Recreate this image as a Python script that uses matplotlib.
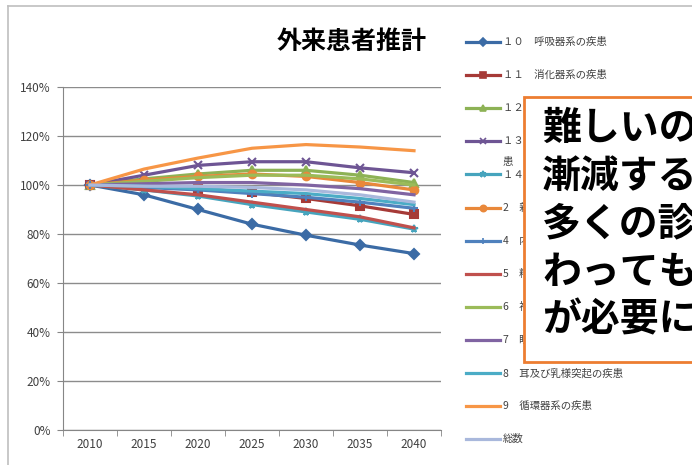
import matplotlib
matplotlib.use("Agg")
import matplotlib.pyplot as plt
from matplotlib.lines import Line2D
from matplotlib.patches import Rectangle

plt.rcParams['font.family'] = ['Noto Sans CJK JP', 'DejaVu Sans']

# data
years = ["2010", "2015", "2020", "2025", "2030", "2035", "2040"]
labels = ["１０　呼吸器系の疾患", "１１　消化器系の疾患", "１２　皮膚及び皮下組織の疾患",
          "１３　筋骨格系及び結合組織の疾\n患", "１４　腎尿路生殖器系の疾患", "2　新生物",
          "4　内分泌，栄養及び代謝疾患", "5　精神及び行動の障害", "6　神経系の疾患",
          "7　眼及び付属器の疾患", "8　耳及び乳様突起の疾患", "9　循環器系の疾患", "総数"]
s10 = [100, 96, 90, 84, 79.5, 75.5, 72]
s11 = [100, 99.5, 98.5, 97, 94.5, 91.5, 88]
s12 = [100, 102.5, 104.5, 106, 106, 104, 101]
s13 = [100, 104, 108, 109.5, 109.5, 107, 105]
s14 = [100, 98, 95.5, 92, 89, 86, 82]
s2 = [100, 102, 103.5, 104.5, 103.5, 101, 98]
s4 = [100, 99, 98, 96.5, 95, 93, 90.5]
s5 = [100, 98, 96, 93, 90, 87, 82.5]
s6 = [100, 101.5, 103, 104, 104, 102.5, 100]
s7 = [100, 100.5, 101, 101, 100, 98.5, 96]
s8 = [100, 99.5, 98.5, 97.5, 96.5, 94.5, 92]
s9 = [100, 106.5, 111, 115, 116.5, 115.5, 114]
total = [100, 99.5, 99.5, 99, 98, 96, 93]
series = [s10, s11, s12, s13, s14, s2, s4, s5, s6, s7, s8, s9, total]

colors = ["#3B6BA5", "#A63A37", "#8DB255", "#6E5594", "#46A4BD", "#E9883A",
          "#4F81BD", "#C0504D", "#9BBB59", "#8064A2", "#4BACC6", "#F79646", "#A9B8DC"]
markers = ["D", "s", "^", "x", "*", "o", "+", None, None, None, None, None, None]

fig = plt.figure(figsize=(6.92, 4.65), dpi=100)
ax = fig.add_axes([63/692, 1-430/465, (441-63)/692, (430-87)/465])

x = list(range(len(years)))
for vals, c, m in zip(series, colors, markers):
    ax.plot(x, vals, color=c, lw=2.3, marker=m, ms=5.5, mew=1.5, mfc=c, mec=c)

ax.set_xlim(-0.5, 6.5)
ax.set_ylim(0, 140)
ax.set_yticks(range(0, 141, 20))
ax.set_yticklabels([f"{v}%" for v in range(0, 141, 20)], fontsize=8.5, color="#404040")
ax.set_xticks(x)
ax.set_xticklabels(years, fontsize=8.5, color="#404040")
ax.set_xticks([i + 0.5 for i in range(-1, 7)], minor=True)
ax.tick_params(axis="x", which="major", length=0, pad=6)
ax.tick_params(axis="x", which="minor", length=4, color="#868686")
ax.tick_params(axis="y", length=4, color="#868686", pad=5)
ax.grid(axis="y", color="#8C8C8C", lw=1)
ax.set_axisbelow(True)
for sp in ["top", "right"]:
    ax.spines[sp].set_visible(False)
ax.spines["left"].set_color("#868686")
ax.spines["bottom"].set_color("#868686")

fig.text(352/692, 1-42/465, "外来患者推計", fontsize=18, fontweight="bold",
         ha="center", va="center")

# legend drawn by hand
y0, dy = 42, 33.1
for i, (lab, c, m) in enumerate(zip(labels, colors, markers)):
    yy = 1 - (y0 + i * dy) / 465
    fig.add_artist(Line2D([466/692, 500/692], [yy, yy], color=c, lw=2.3,
                          transform=fig.transFigure))
    if m is not None:
        fig.add_artist(Line2D([483/692], [yy], color=c, marker=m, ms=4.5, mew=1.2,
                              transform=fig.transFigure))
    if "\n" in lab:
        fig.text(503/692, yy + 6/465, lab, fontsize=7.5, color="#404040", va="top",
                 linespacing=2.4)
    else:
        fig.text(503/692, yy, lab, fontsize=7.5, color="#404040", va="center")

# chart frame
fig.add_artist(Line2D([8/692, 8/692], [0, 1-6/465], color="#BFBFBF", lw=1.2))
fig.add_artist(Line2D([8/692, 1], [1-6/465, 1-6/465], color="#BFBFBF", lw=1.2))

# overlay note box
fig.add_artist(Rectangle((524/692, 1-362/465), 200/692, (362-97)/465,
                         facecolor="white", edgecolor="#ED7D31", lw=2,
                         transform=fig.transFigure, zorder=5))
note = ["難しいの", "漸減する", "多くの診", "わっても", "が必要に"]
for i, t in enumerate(note):
    fig.text(542/692, 1-(128 + i*48)/465, t, fontsize=28, fontweight="bold",
             va="center", ha="left", zorder=6)

fig.savefig("out.png", dpi=100)
